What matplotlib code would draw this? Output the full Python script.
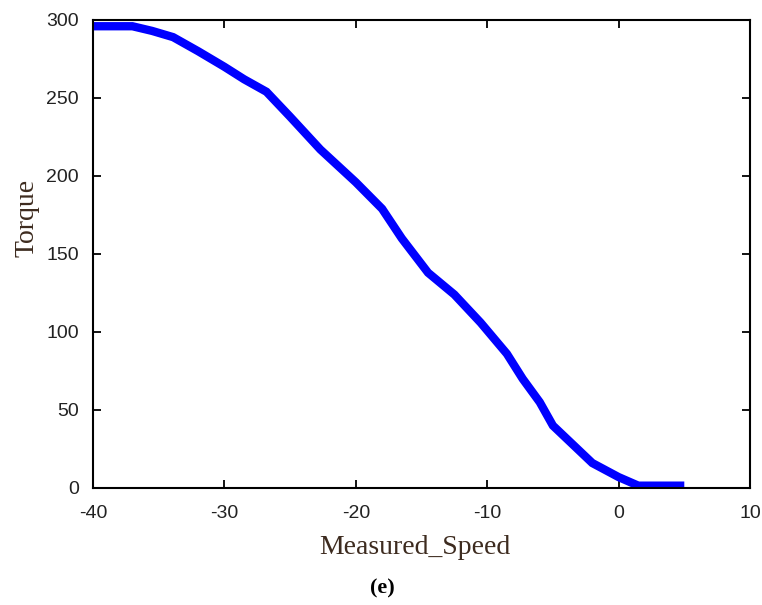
import matplotlib.pyplot as plt

plt.rcParams['axes.unicode_minus'] = False

# Measured_Speed vs Torque
speed = [-40, -37, -35.5, -33.9, -32, -30, -28.5, -26.8, -25, -22.7, -20,
         -18, -16.5, -14.5, -12.5, -10.5, -8.5, -7.3, -6, -5, -3.5, -2,
         0, 1.5, 5]
torque = [296, 296, 293, 289, 280, 270, 262, 254, 238, 217, 196,
          179, 160, 138, 124, 106, 86, 70, 55, 40, 28, 16,
          7, 1.5, 1.5]

xticks = [-40, -30, -20, -10, 0, 10]
yticks = [0, 50, 100, 150, 200, 250, 300]

fig = plt.figure(figsize=(7.62, 6.05), dpi=100)
ax = fig.add_axes([93 / 762, 1 - 488 / 605, 657 / 762, 468 / 605])

ax.plot(speed, torque, color='#0000ff', linewidth=6, solid_capstyle='butt',
        solid_joinstyle='miter')

ax.set_xlim(-40, 10)
ax.set_ylim(0, 300)
ax.set_xticks(xticks)
ax.set_yticks(yticks)
ax.tick_params(direction='in', length=6, width=1.3, top=True, right=True,
               labelsize=14)
ax.tick_params(axis='x', pad=12)
ax.tick_params(axis='y', pad=10)
for lab in ax.get_xticklabels() + ax.get_yticklabels():
    lab.set_family('Liberation Sans')
    lab.set_color('#222222')
for s in ax.spines.values():
    s.set_linewidth(1.5)

label_color = '#3d2b1f'
fig.text(415 / 762, 1 - 548 / 605, 'Measured_Speed', ha='center', va='center',
         family='Liberation Serif', fontsize=20, color=label_color)
fig.text(27 / 762, 1 - 218 / 605, 'Torque', ha='center', va='center',
         rotation=90, family='Liberation Serif', fontsize=20, color=label_color)
fig.text(382 / 762, 1 - 588 / 605, '(e)', ha='center', va='center',
         family='Liberation Serif', fontsize=16, fontweight='bold')

fig.savefig('out.png', dpi=100)
